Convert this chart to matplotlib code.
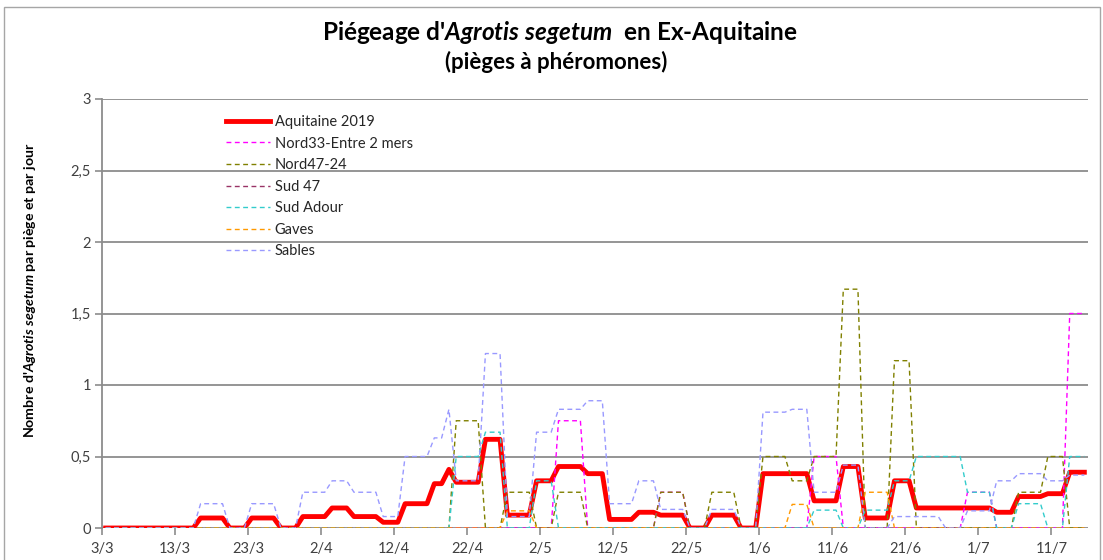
import numpy as np
import matplotlib
matplotlib.use("Agg")
import matplotlib.pyplot as plt
from matplotlib.patches import Rectangle

plt.rcParams['font.family'] = ['Lato', 'DejaVu Sans']
plt.rcParams['mathtext.fontset'] = 'custom'
plt.rcParams['mathtext.it'] = 'Lato:italic:bold'
plt.rcParams['mathtext.rm'] = 'Lato:bold'
plt.rcParams['mathtext.bf'] = 'Lato:bold'

# daily values, 3/3 -> 15/7 (one row = 10 days)
aquitaine = [
    0, 0, 0, 0, 0, 0, 0, 0, 0, 0,
    0, 0, 0, 0.07, 0.07, 0.07, 0.07, 0, 0, 0,
    0.07, 0.07, 0.07, 0.07, 0, 0, 0, 0.08, 0.08, 0.08,
    0.08, 0.14, 0.14, 0.14, 0.08, 0.08, 0.08, 0.08, 0.04, 0.04,
    0.04, 0.17, 0.17, 0.17, 0.17, 0.31, 0.31, 0.41, 0.32, 0.32,
    0.32, 0.32, 0.62, 0.62, 0.62, 0.09, 0.09, 0.09, 0.09, 0.33,
    0.33, 0.33, 0.43, 0.43, 0.43, 0.43, 0.38, 0.38, 0.38, 0.06,
    0.06, 0.06, 0.06, 0.11, 0.11, 0.11, 0.09, 0.09, 0.09, 0.09,
    0, 0, 0, 0.09, 0.09, 0.09, 0.09, 0, 0, 0,
    0.38, 0.38, 0.38, 0.38, 0.38, 0.38, 0.38, 0.19, 0.19, 0.19,
    0.19, 0.43, 0.43, 0.43, 0.07, 0.07, 0.07, 0.07, 0.33, 0.33,
    0.33, 0.14, 0.14, 0.14, 0.14, 0.14, 0.14, 0.14, 0.14, 0.14,
    0.14, 0.14, 0.11, 0.11, 0.11, 0.22, 0.22, 0.22, 0.22, 0.24,
    0.24, 0.24, 0.39, 0.39, 0.39]

nord33 = [
    0, 0, 0, 0, 0, 0, 0, 0, 0, 0,
    0, 0, 0, 0, 0, 0, 0, 0, 0, 0,
    0, 0, 0, 0, 0, 0, 0, 0, 0, 0,
    0, 0, 0, 0, 0, 0, 0, 0, 0, 0,
    0, 0, 0, 0, 0, 0, 0, 0, 0, 0,
    0, 0, 0, 0, 0, 0, 0, 0, 0, 0,
    0, 0, 0.75, 0.75, 0.75, 0.75, 0, 0, 0, 0,
    0, 0, 0, 0, 0, 0, 0.25, 0.25, 0.25, 0.25,
    0, 0, 0, 0, 0, 0, 0, 0, 0, 0,
    0, 0, 0, 0, 0, 0, 0, 0.5, 0.5, 0.5,
    0.5, 0, 0, 0, 0, 0, 0, 0, 0, 0,
    0, 0, 0, 0, 0, 0, 0, 0, 0.25, 0.25,
    0.25, 0.25, 0, 0, 0, 0, 0, 0, 0, 0,
    0, 0, 1.5, 1.5, 1.5]

nord47 = [
    0, 0, 0, 0, 0, 0, 0, 0, 0, 0,
    0, 0, 0, 0, 0, 0, 0, 0, 0, 0,
    0, 0, 0, 0, 0, 0, 0, 0, 0, 0,
    0, 0, 0, 0, 0, 0, 0, 0, 0, 0,
    0, 0, 0, 0, 0, 0, 0, 0, 0.75, 0.75,
    0.75, 0.75, 0, 0, 0, 0.25, 0.25, 0.25, 0.25, 0,
    0, 0, 0.25, 0.25, 0.25, 0.25, 0, 0, 0, 0,
    0, 0, 0, 0, 0, 0, 0.25, 0.25, 0.25, 0.25,
    0, 0, 0, 0.25, 0.25, 0.25, 0.25, 0, 0, 0,
    0.5, 0.5, 0.5, 0.5, 0.33, 0.33, 0.33, 0.5, 0.5, 0.5,
    0.5, 1.67, 1.67, 1.67, 0, 0, 0, 0, 1.17, 1.17,
    1.17, 0, 0, 0, 0, 0, 0, 0, 0, 0,
    0, 0, 0, 0, 0, 0.25, 0.25, 0.25, 0.25, 0.5,
    0.5, 0.5, 0, 0, 0]

sud47 = [0] * 135

sud_adour = [
    0, 0, 0, 0, 0, 0, 0, 0, 0, 0,
    0, 0, 0, 0, 0, 0, 0, 0, 0, 0,
    0, 0, 0, 0, 0, 0, 0, 0, 0, 0,
    0, 0, 0, 0, 0, 0, 0, 0, 0, 0,
    0, 0, 0, 0, 0, 0, 0, 0, 0.5, 0.5,
    0.5, 0.5, 0.67, 0.67, 0.67, 0, 0, 0, 0, 0.33,
    0.33, 0.33, 0, 0, 0, 0, 0, 0, 0, 0,
    0, 0, 0, 0, 0, 0, 0, 0, 0, 0,
    0, 0, 0, 0, 0, 0, 0, 0, 0, 0,
    0, 0, 0, 0, 0, 0, 0, 0.125, 0.125, 0.125,
    0.125, 0, 0, 0, 0.125, 0.125, 0.125, 0.125, 0.33, 0.33,
    0.33, 0.5, 0.5, 0.5, 0.5, 0.5, 0.5, 0.5, 0.25, 0.25,
    0.25, 0.25, 0, 0, 0, 0.17, 0.17, 0.17, 0.17, 0,
    0, 0, 0.5, 0.5, 0.5]

gaves = [
    0, 0, 0, 0, 0, 0, 0, 0, 0, 0,
    0, 0, 0, 0, 0, 0, 0, 0, 0, 0,
    0, 0, 0, 0, 0, 0, 0, 0, 0, 0,
    0, 0, 0, 0, 0, 0, 0, 0, 0, 0,
    0, 0, 0, 0, 0, 0, 0, 0, 0, 0,
    0, 0, 0, 0, 0, 0.12, 0.12, 0.12, 0.12, 0,
    0, 0, 0, 0, 0, 0, 0, 0, 0, 0,
    0, 0, 0, 0, 0, 0, 0, 0, 0, 0,
    0, 0, 0, 0, 0, 0, 0, 0, 0, 0,
    0, 0, 0, 0, 0.165, 0.165, 0.165, 0, 0, 0,
    0, 0, 0, 0, 0.25, 0.25, 0.25, 0.25, 0, 0,
    0, 0, 0, 0, 0, 0, 0, 0, 0, 0,
    0, 0, 0, 0, 0, 0, 0, 0, 0, 0,
    0, 0, 0, 0, 0]

sables = [
    0, 0, 0, 0, 0, 0, 0, 0, 0, 0,
    0, 0, 0, 0.17, 0.17, 0.17, 0.17, 0, 0, 0,
    0.17, 0.17, 0.17, 0.17, 0, 0, 0, 0.25, 0.25, 0.25,
    0.25, 0.33, 0.33, 0.33, 0.25, 0.25, 0.25, 0.25, 0.08, 0.08,
    0.08, 0.5, 0.5, 0.5, 0.5, 0.63, 0.63, 0.83, 0.33, 0.33,
    0.33, 0.33, 1.22, 1.22, 1.22, 0.08, 0.08, 0.08, 0.08, 0.67,
    0.67, 0.67, 0.83, 0.83, 0.83, 0.83, 0.89, 0.89, 0.89, 0.17,
    0.17, 0.17, 0.17, 0.33, 0.33, 0.33, 0.13, 0.13, 0.13, 0.13,
    0, 0, 0, 0.13, 0.13, 0.13, 0.13, 0, 0, 0,
    0.81, 0.81, 0.81, 0.81, 0.83, 0.83, 0.83, 0.25, 0.25, 0.25,
    0.25, 0.44, 0.44, 0.44, 0, 0, 0, 0, 0.08, 0.08,
    0.08, 0.08, 0.08, 0.08, 0.08, 0, 0, 0, 0.12, 0.12,
    0.12, 0.12, 0.33, 0.33, 0.33, 0.38, 0.38, 0.38, 0.38, 0.33,
    0.33, 0.33, 0.37, 0.37, 0.37]

tick_labels = ['3/3', '13/3', '23/3', '2/4', '12/4', '22/4', '2/5', '12/5',
               '22/5', '1/6', '11/6', '21/6', '1/7', '11/7']

series = [
    ("Aquitaine 2019", aquitaine, '#FF0000'),
    ("Nord33-Entre 2 mers", nord33, '#FF00FF'),
    ("Nord47-24", nord47, '#808000'),
    ("Sud 47", sud47, '#993366'),
    ("Sud Adour", sud_adour, '#33CCCC'),
    ("Gaves", gaves, '#FF9900'),
    ("Sables", sables, '#9999FF'),
]

fig = plt.figure(figsize=(11.03, 5.6), dpi=100)
fig.patches.append(Rectangle((4 / 1103, -0.05), 1096 / 1103, 1.05 - 7 / 560,
                             transform=fig.transFigure, fill=False,
                             edgecolor='#A6A6A6', lw=1))
ax = fig.add_axes([102 / 1103, 1 - 528 / 560, 986 / 1103, 429 / 560])

days = np.arange(len(aquitaine))
for i, (name, vals, col) in enumerate(series):
    if i == 0:
        ax.plot(days, vals, color=col, lw=3.5, label=name, zorder=2,
                solid_joinstyle='round')
    else:
        ax.plot(days, vals, color=col, lw=1.0, ls=(0, (3.5, 2.5)),
                label=name, zorder=3 + i)

ax.set_xlim(-0.5, len(days) - 0.5)
ax.set_ylim(0, 3)
ax.set_xticks(np.arange(0, len(days), 10) - 0.5)
ax.set_xticklabels(tick_labels)
yt = np.arange(0, 3.01, 0.5)
ax.set_yticks(yt)
ax.set_yticklabels([('%g' % v).replace('.', ',') for v in yt])
ax.grid(axis='y', color='#8C8C8C', lw=1.3)
ax.set_axisbelow(True)
for s in ['top', 'right', 'bottom']:
    ax.spines[s].set_visible(False)
ax.spines['left'].set_color('#8C8C8C')
ax.spines['left'].set_linewidth(1.3)
ax.tick_params(axis='both', colors='#8C8C8C', labelcolor='#404040',
               labelsize=10.5, length=5, width=1.2)
ax.tick_params(axis='x', pad=5)
ax.tick_params(axis='y', pad=3)

leg = ax.legend(loc='upper left', bbox_to_anchor=((226 - 102) / 986, (528 - 115) / 429),
                frameon=False, fontsize=10.5, handlelength=3.0, handletextpad=0.35,
                labelspacing=0.52, borderpad=0, borderaxespad=0)
for t in leg.get_texts():
    t.set_color('#262626')

fig.text(560 / 1103, 1 - 32 / 560,
         r"Piégeage d'$Agrotis\ segetum$  en Ex-Aquitaine",
         ha='center', va='center', fontsize=17.5, fontweight='bold')
fig.text(556 / 1103, 1 - 62 / 560, "(pièges à phéromones)",
         ha='center', va='center', fontsize=16, fontweight='bold')
fig.text(30 / 1103, 1 - 290 / 560,
         r"Nombre d'$Agrotis\ segetum$ par piège et par jour",
         ha='center', va='center', rotation=90, fontsize=10.2, fontweight='bold')

fig.savefig('out.png', dpi=100)
